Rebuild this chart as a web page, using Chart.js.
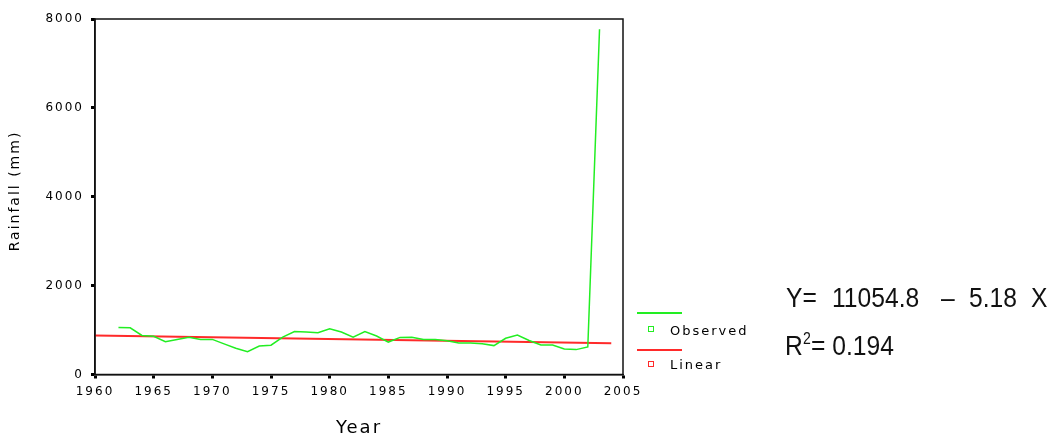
<!DOCTYPE html>
<html>
<head>
<meta charset="utf-8">
<script src="https://cdn.jsdelivr.net/npm/chart.js@4"></script>
<style>
  body { margin: 0; background: #fff; }
  #wrap { position: relative; width: 1054px; height: 439px; }
  .leg { position: absolute; font: 13px "DejaVu Sans", sans-serif; letter-spacing: 2px; color: #000; line-height: 14px; }
  .legline { position: absolute; height: 2px; width: 45px; left: 637px; }
  .legbox { position: absolute; width: 4px; height: 4px; border: 1.5px solid; left: 648px; }
  .eq { position: absolute; font: 28px "Liberation Sans", Arial, sans-serif; color: #111; line-height: 28px; white-space: pre;
        transform: scaleX(0.88); transform-origin: 0 0; }
</style>
</head>
<body>
<div id="wrap">
  <canvas id="chart" width="1054" height="439"></canvas>

  <div class="legline" style="top:312px;background:#22ee22"></div>
  <div class="legbox" style="top:326px;border-color:#22ee22"></div>
  <div class="leg" style="left:670px;top:324px">Observed</div>
  <div class="legline" style="top:349px;background:#ff2a2a"></div>
  <div class="legbox" style="top:361px;border-color:#ff2a2a"></div>
  <div class="leg" style="left:670px;top:358px">Linear</div>

  <div class="eq" style="left:786px;top:284px">Y=</div>
  <div class="eq" style="left:832px;top:284px">11054.8</div>
  <div class="eq" style="left:941px;top:284px">–</div>
  <div class="eq" style="left:969px;top:284px">5.18</div>
  <div class="eq" style="left:1031px;top:284px">X</div>
  <div class="eq" style="left:785px;top:332px">R</div>
  <div class="eq" style="left:803px;top:331px;font-size:16px;line-height:16px">2</div>
  <div class="eq" style="left:811px;top:332px">= 0.194</div>
</div>
<script>
const years = [1962, 1963, 1964, 1965, 1966, 1967, 1968, 1969, 1970, 1971,
  1972, 1973, 1974, 1975, 1976, 1977, 1978, 1979, 1980, 1981,
  1982, 1983, 1984, 1985, 1986, 1987, 1988, 1989, 1990, 1991,
  1992, 1993, 1994, 1995, 1996, 1997, 1998, 1999, 2000, 2001,
  2002, 2003];
const observed = [1060, 1050, 880, 860, 740, 790, 840, 790, 790, 690,
  590, 515, 640, 660, 840, 965, 955, 940, 1030, 955,
  840, 965, 865, 730, 835, 840, 790, 790, 760, 710,
  710, 690, 650, 815, 890, 765, 665, 665, 575, 560,
  620, 7770];
const linearYears = [1960, 2004];
const linearValues = [877, 705];
const xTicks = [1960, 1965, 1970, 1975, 1980, 1985, 1990, 1995, 2000, 2005];
const yTicks = [0, 2000, 4000, 6000, 8000];
const yTitle = "Rainfall (mm)";

const toPoints = (xs, ys) => xs.map((x, i) => ({ x: x, y: ys[i] }));

// SPSS-style box round the plot, wide letter spacing, y title placed by hand
const spssLook = {
  id: "spssLook",
  beforeLayout(chart) { chart.ctx.letterSpacing = "2px"; },
  beforeDraw(chart) { chart.ctx.letterSpacing = "2px"; },
  afterDraw(chart) {
    const { ctx, chartArea } = chart;
    ctx.save();
    ctx.strokeStyle = "#111";
    ctx.lineWidth = 1.5;
    ctx.strokeRect(chartArea.left, chartArea.top, chartArea.right - chartArea.left, chartArea.bottom - chartArea.top);

    ctx.translate(15, 191);
    ctx.rotate(-Math.PI / 2);
    ctx.font = "14px 'DejaVu Sans'";
    ctx.fillStyle = "#000";
    ctx.textAlign = "center";
    ctx.textBaseline = "middle";
    ctx.fillText(yTitle, 0, 0);
    ctx.restore();
    ctx.letterSpacing = "0px";
  }
};

const tickFont = { family: "DejaVu Sans", size: 12 };

new Chart(document.getElementById("chart"), {
  type: "line",
  data: {
    datasets: [
      {
        label: "Observed",
        data: toPoints(years, observed),
        borderColor: "#22ee22",
        borderWidth: 1.5,
        pointRadius: 0,
        tension: 0,
      },
      {
        label: "Linear",
        data: toPoints(linearYears, linearValues),
        borderColor: "#ff2a2a",
        borderWidth: 2,
        pointRadius: 0,
      },
    ],
  },
  options: {
    responsive: false,
    animation: false,
    layout: { padding: { top: 19, right: 431, left: 0, bottom: 0 } },
    plugins: { legend: { display: false }, tooltip: { enabled: false } },
    scales: {
      x: {
        type: "linear",
        min: 1960,
        max: 2005,
        afterBuildTicks: (scale) => { scale.ticks = xTicks.map((v) => ({ value: v })); },
        afterFit: (scale) => { scale.height = 64.5; },
        ticks: { color: "#000", font: tickFont, padding: 6, maxRotation: 0, callback: (v) => String(v) },
        grid: { display: true, drawOnChartArea: false, tickLength: 4, tickWidth: 3, tickColor: "#000" },
        border: { color: "#111", width: 1.5 },
        title: { display: true, text: "Year", color: "#000", font: { family: "DejaVu Sans", size: 18 }, padding: { top: 0, bottom: 0 } },
      },
      y: {
        min: 0,
        max: 8000,
        afterBuildTicks: (scale) => { scale.ticks = yTicks.map((v) => ({ value: v })); },
        afterFit: (scale) => { scale.width = 95; },
        ticks: { color: "#000", font: tickFont, padding: 7, callback: (v) => String(v) },
        grid: { display: true, drawOnChartArea: false, tickLength: 4, tickWidth: 3, tickColor: "#000" },
        border: { color: "#111", width: 1.5 },
      },
    },
  },
  plugins: [spssLook],
});
</script>
</body>
</html>
